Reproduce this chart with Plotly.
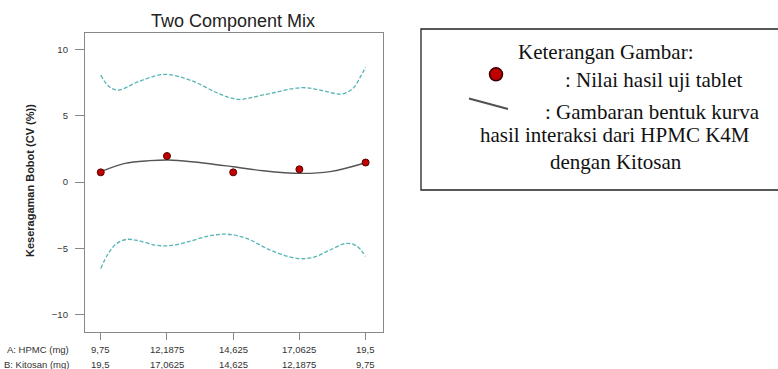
import plotly.graph_objects as go

# Mixture design: HPMC K4M + Kitosan (mg), response = weight uniformity CV (%)
hpmc = [9.75, 12.1875, 14.625, 17.0625, 19.5]
kitosan = [19.5, 17.0625, 14.625, 12.1875, 9.75]
hpmc_labels = ["9,75", "12,1875", "14,625", "17,0625", "19,5"]
kitosan_labels = ["19,5", "17,0625", "14,625", "12,1875", "9,75"]
cv_observed = [0.73, 1.96, 0.73, 0.96, 1.47]

# Fitted model curve
fit_x = [9.75, 10.64, 11.56, 12.24, 13.1, 14.63, 15.73, 17.08, 18.19, 19.5]
fit_y = [0.78, 1.41, 1.61, 1.66, 1.53, 1.15, 0.85, 0.65, 0.78, 1.45]

# Upper and lower prediction bands
upper_x = [9.75, 10.05, 10.4, 11.13, 12.12, 13.1, 14.08, 14.8, 15.73, 17.15, 17.94, 18.62, 19.04, 19.3, 19.5]
upper_y = [8.06, 7.2, 6.93, 7.56, 8.11, 7.63, 6.68, 6.23, 6.56, 7.11, 6.88, 6.63, 7.06, 7.9, 8.65]
lower_x = [9.75, 10.03, 10.34, 10.71, 11.13, 11.75, 12.24, 12.85, 13.71, 14.4, 15.12, 15.98,
           16.96, 17.57, 18.19, 18.8, 19.17, 19.5]
lower_y = [-6.51, -5.38, -4.62, -4.32, -4.42, -4.75, -4.80, -4.57, -4.07, -3.93, -4.25, -5.12,
           -5.75, -5.68, -5.12, -4.62, -4.82, -5.6]

y_ticks = [-10, -5, 0, 5, 10]

W, H = 778, 369
SANS = "Liberation Sans, Arial, sans-serif"
SERIF = "Liberation Serif, Times New Roman, serif"


def px(x):
    return x / W


def py(y):
    return 1 - y / H


def note(text, x, y, font, xanchor="center", xref="paper", **kw):
    return dict(text=text, x=x, y=y, xref=xref, yref="paper", xanchor=xanchor,
                yanchor="middle", showarrow=False, font=font, **kw)


fig = go.Figure()

band_style = dict(color="#55b4b4", width=1.3, dash="4px,2px")
fig.add_trace(go.Scatter(x=upper_x, y=upper_y, mode="lines", line=dict(shape="spline", **band_style),
                         hoverinfo="skip"))
fig.add_trace(go.Scatter(x=lower_x, y=lower_y, mode="lines", line=dict(shape="spline", **band_style),
                         hoverinfo="skip"))
fig.add_trace(go.Scatter(x=fit_x, y=fit_y, mode="lines",
                         line=dict(color="#555555", width=1.4, shape="spline")))
fig.add_trace(go.Scatter(x=hpmc, y=cv_observed, mode="markers",
                         marker=dict(size=7, color="#c00000", line=dict(color="#5a0000", width=1))))

axis_common = dict(showline=True, linecolor="#888888", linewidth=1.3, mirror=True,
                   showgrid=False, zeroline=False, ticks="outside", tickcolor="#888888",
                   tickwidth=1)

fig.update_xaxes(domain=[px(85), px(383)], range=[9.17, 20.14], tickvals=hpmc,
                 showticklabels=False, ticklen=7, **axis_common)
fig.update_yaxes(domain=[py(332), py(33)], range=[-11.3, 11.23], tickvals=y_ticks,
                 ticklen=9, ticklabelstandoff=5,
                 tickfont=dict(family=SANS, size=9.5, color="#333333"), **axis_common)

tick_font = dict(family=SANS, size=9.5, color="#333333")
annotations = [
    note("Two Component Mix", px(233), py(21), dict(family=SANS, size=18, color="#222222")),
    note("<b>Keseragaman Bobot (CV (%))</b>", px(30), py(181),
         dict(family=SANS, size=11, color="#222222"), textangle=-90),
    note("A: HPMC (mg)", px(71), py(349), tick_font, xanchor="right"),
    note("B: Kitosan (mg)", px(71), py(364.3), tick_font, xanchor="right"),
]
for xv, a_lab, b_lab in zip(hpmc, hpmc_labels, kitosan_labels):
    annotations.append(note(a_lab, xv, py(349), tick_font, xref="x"))
    annotations.append(note(b_lab, xv, py(364.3), tick_font, xref="x"))

# Explanation box text
serif_font = dict(family=SERIF, size=21, color="#111111")
annotations += [
    note("Keterangan Gambar:", px(605.5), py(51.7), serif_font),
    note(": Nilai hasil uji tablet", px(563), py(80), serif_font, xanchor="left"),
    note(": Gambaran bentuk kurva", px(543), py(111.7), serif_font, xanchor="left"),
    note("hasil interaksi dari HPMC K4M", px(615), py(135), serif_font),
    note("dengan Kitosan", px(615.5), py(161.7), serif_font),
]

shapes = [
    dict(type="rect", xref="paper", yref="paper", x0=px(421), x1=px(790), y0=py(190), y1=py(29),
         line=dict(color="#222222", width=1.3), fillcolor="rgba(0,0,0,0)"),
    dict(type="circle", xref="paper", yref="paper", x0=px(489.5), x1=px(502.5), y0=py(80.8),
         y1=py(67.8), fillcolor="#c00000", line=dict(color="#3a0000", width=1.5)),
    dict(type="line", xref="paper", yref="paper", x0=px(469), y0=py(98.5), x1=px(508), y1=py(109),
         line=dict(color="#505050", width=2)),
]

fig.update_layout(width=W, height=H, autosize=False, margin=dict(l=0, r=0, t=0, b=0),
                  paper_bgcolor="white", plot_bgcolor="white", showlegend=False,
                  annotations=annotations, shapes=shapes)

fig.write_html("out.html")
